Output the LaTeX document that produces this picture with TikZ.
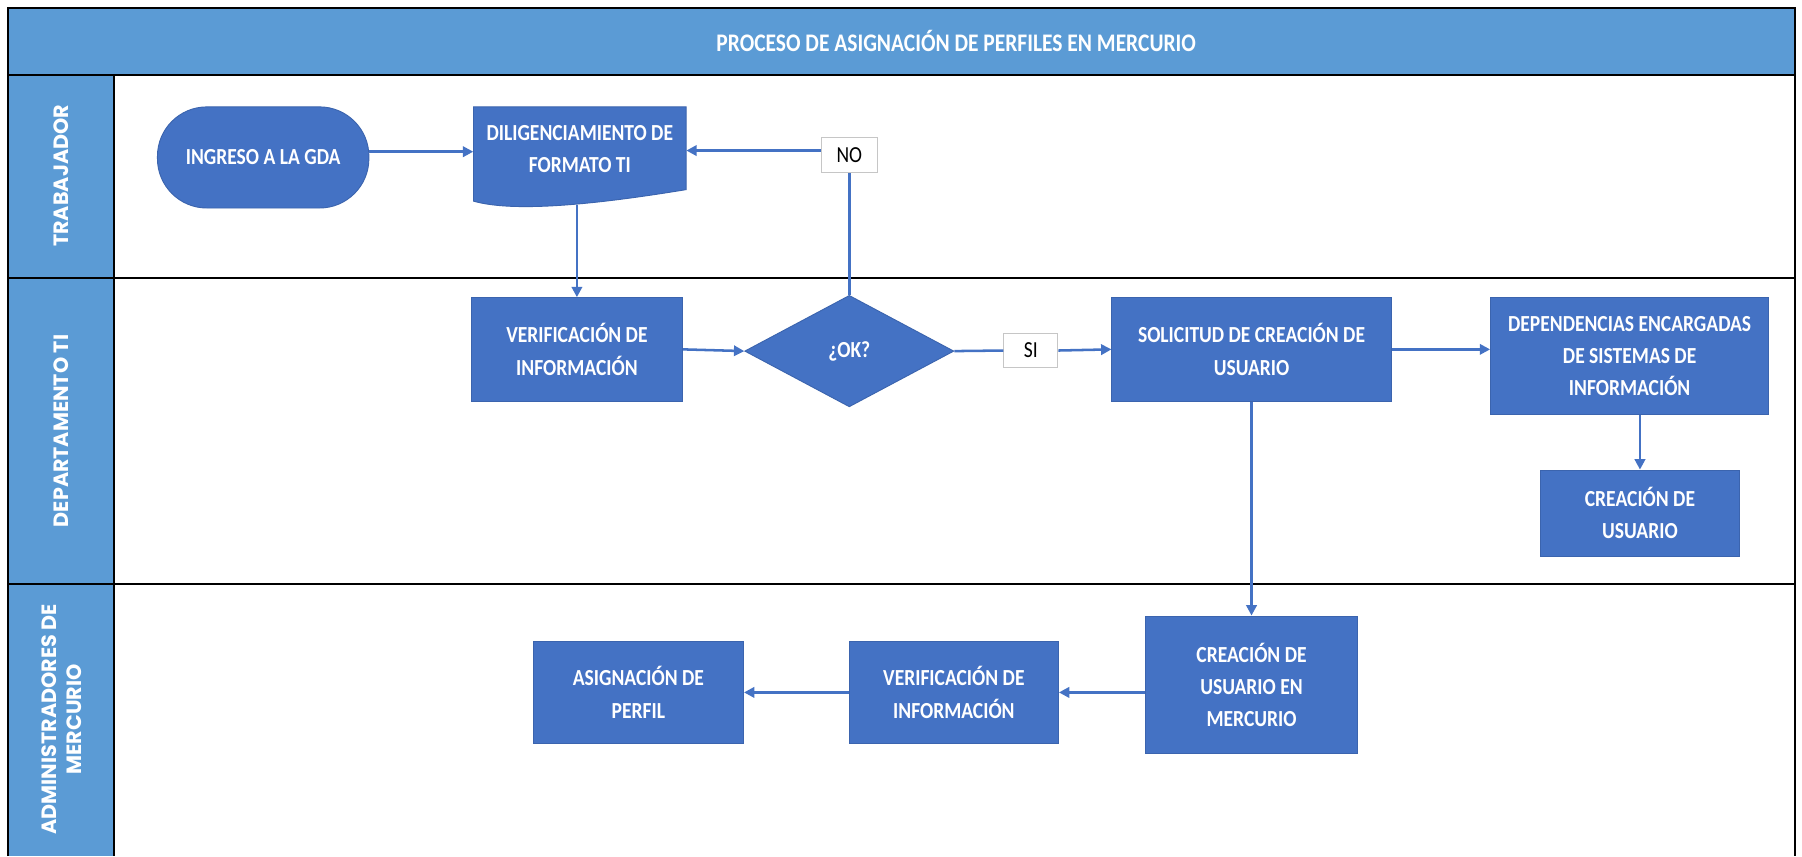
\documentclass[tikz,border=0pt]{standalone}
\usepackage{fontspec}
\setmainfont{Carlito}[FakeStretch=0.85]
\newfontfamily\lanefont{Poppins}
\usetikzlibrary{arrows.meta,shapes.geometric}
\definecolor{boxblue}{HTML}{4472C4}
\definecolor{laneblue}{HTML}{5B9BD5}
\definecolor{boxedge}{HTML}{3B64AE}
\begin{document}
\begin{tikzpicture}[x=1pt,y=-1pt,
 proc/.style={draw=boxedge, line width=0.8pt, fill=boxblue, text=white, font=\fontsize{20}{28}\selectfont\bfseries, align=center, inner sep=0pt},
 lbl/.style={draw=gray!45, fill=white, line width=0.8pt, font=\fontsize{20}{24}\selectfont, inner sep=0pt},
 conn/.style={draw=boxblue, line width=2.2pt},
 arr/.style={conn, -{Triangle[length=9pt,width=9pt]}},
 lanelbl/.style={text=white, rotate=90, font=\lanefont\bfseries\fontsize{18}{22}\selectfont, align=center},
 frame/.style={draw=black, line width=1.5pt}
]
\useasboundingbox (0,0) rectangle (1568,745);
\fill[white] (0,0) rectangle (1568,745);
% header and lane column
\fill[laneblue] (7,7) rectangle (1562,65);
\fill[laneblue] (7,65) rectangle (99,745);
\draw[frame] (7,745) -- (7,7) -- (1562,7) -- (1562,745);
\draw[frame] (7,65) -- (1562,65);
\draw[frame] (7,242) -- (1562,242);
\draw[frame] (7,508) -- (1562,508);
\draw[frame] (99,65) -- (99,745);

\node[text=white, font=\fontsize{22}{24}\selectfont\bfseries] (title) at (832,36) {PROCESO DE ASIGNACIÓN DE PERFILES EN MERCURIO};

\node[lanelbl] (l1) at (53,153) {TRABAJADOR};
\node[lanelbl] (l2) at (53,375) {DEPARTAMENTO TI};
\node[lanelbl] (l3) at (54,626) {ADMINISTRADORES DE\\MERCURIO};

% lane 1
\node[proc, rounded corners=43pt, minimum width=184pt, minimum height=88pt] (ingreso) at (229,137) {INGRESO A LA GDA};
\fill[boxblue, draw=boxedge, line width=0.8pt] (412,93) -- (597,93) -- (597,165) .. controls (530,176) and (450,186) .. (412,175) -- cycle;
\node[inner sep=0pt, minimum width=185pt, minimum height=74pt, align=center, text=white, font=\fontsize{20}{28}\selectfont\bfseries] (dilig) at (504.5,130) {DILIGENCIAMIENTO DE\\FORMATO TI};
\coordinate (digbot) at (502,178);
\node[lbl, minimum width=49pt, minimum height=30pt] (no) at (739,135) {NO};

% lane 2
\node[proc, minimum width=184pt, minimum height=90pt] (verif1) at (502,304) {VERIFICACIÓN DE\\INFORMACIÓN};
\node[proc, diamond, aspect=1.876, minimum width=182pt, minimum height=97pt] (ok) at (739,305.5) {¿OK?};
\node[lbl, minimum width=47pt, minimum height=29pt] (si) at (897,305) {SI};
\node[proc, minimum width=243pt, minimum height=90pt] (solic) at (1089,304) {SOLICITUD DE CREACIÓN DE\\USUARIO};
\node[proc, minimum width=242pt, minimum height=102pt] (dep) at (1418,310) {DEPENDENCIAS ENCARGADAS\\DE SISTEMAS DE\\INFORMACIÓN};
\node[proc, minimum width=173pt, minimum height=75pt] (crea) at (1427,446.5) {CREACIÓN DE\\USUARIO};

% lane 3
\node[proc, minimum width=184pt, minimum height=120pt] (merc) at (1089,596) {CREACIÓN DE\\USUARIO EN\\MERCURIO};
\node[proc, minimum width=182pt, minimum height=89pt] (verif2) at (830,602.5) {VERIFICACIÓN DE\\INFORMACIÓN};
\node[proc, minimum width=183pt, minimum height=89pt] (asig) at (555.5,602.5) {ASIGNACIÓN DE\\PERFIL};

% connectors
\draw[arr] ([yshift=5pt]ingreso.east) -- ([yshift=5pt]ingreso.east -| dilig.west);
\draw[arr] ([yshift=4pt]no.west) -- ([yshift=4pt]no.west -| dilig.east);
\draw[conn] (ok.north) -- (no.south);
\draw[arr] (digbot) -- (verif1.north);
\draw[arr] (verif1.east) -- (ok.west);
\draw[conn] (ok.east) -- (si.west);
\draw[arr] (si.east) -- (solic.west);
\draw[arr] (solic.east) -- (solic.east -| dep.west);
\draw[arr] (dep.south -| crea.north) -- (crea.north);
\draw[arr] (solic.south) -- (merc.north);
\draw[arr] (verif2.east -| merc.west) -- (verif2.east);
\draw[arr] (verif2.west) -- (asig.east);
\end{tikzpicture}
\end{document}
